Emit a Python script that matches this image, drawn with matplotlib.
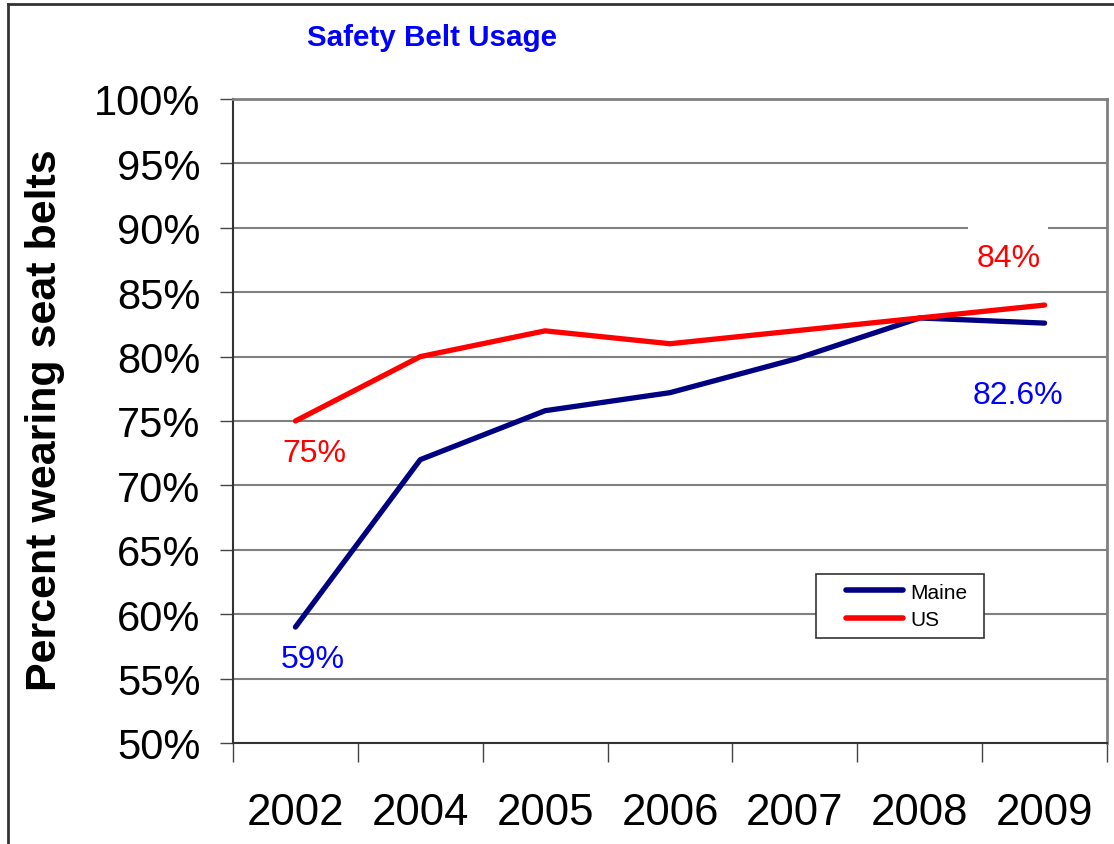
import matplotlib
matplotlib.use("Agg")
import matplotlib.pyplot as plt
from matplotlib.patches import Rectangle
from matplotlib.lines import Line2D

plt.rcParams['font.family'] = ['Liberation Sans', 'DejaVu Sans']

years = ['2002', '2004', '2005', '2006', '2007', '2008', '2009']
maine = [59.0, 72.0, 75.8, 77.2, 79.8, 83.0, 82.6]
us = [75.0, 80.0, 82.0, 81.0, 82.0, 83.0, 84.0]
yticks = [50, 55, 60, 65, 70, 75, 80, 85, 90, 95, 100]

W, H = 1114, 845
fig = plt.figure(figsize=(W / 100, H / 100), dpi=100)
ax = fig.add_axes([233 / W, 1 - 744 / H, (1107 - 233) / W, (744 - 100) / H])

x = list(range(len(years)))
ax.set_xlim(-0.5, len(years) - 0.5)
ax.set_ylim(50, 100)

ax.set_yticks(yticks)
ax.set_yticklabels([f"{v}%" for v in yticks], fontsize=30)
ax.yaxis.grid(True, color='#808080', linewidth=1.5, zorder=0)
ax.set_axisbelow(True)

ax.set_xticks([i - 0.5 for i in range(len(years) + 1)])
ax.set_xticklabels([])
ax.set_xticks(x, minor=True)
ax.set_xticklabels(years, minor=True, fontsize=31.5)
ax.tick_params(axis='x', which='major', length=14, width=1, color='#444444', direction='out')
ax.tick_params(axis='x', which='minor', length=0, pad=35)
ax.tick_params(axis='y', length=9.5, width=1, color='#444444', pad=14)

for s in ['left', 'bottom']:
    ax.spines[s].set_color('#333333')
    ax.spines[s].set_linewidth(1.5)
for s in ['right', 'top']:
    ax.spines[s].set_color('#808080')
    ax.spines[s].set_linewidth(2)

# white label box covering the 90% gridline
ax.add_patch(Rectangle((5.39, 88.6), 0.64, 2.6, facecolor='white', edgecolor='none', zorder=1))

ax.plot(x, maine, color='#000080', linewidth=3.8, solid_capstyle='round', zorder=3, label='Maine')
ax.plot(x, us, color='#FF0000', linewidth=3.8, solid_capstyle='round', zorder=3, label='US')

ax.text(x[0] + 0.15, us[0] - 2.5, f"{us[0]:.0f}%", color='#FF0000', fontsize=23, ha='center', va='center')
ax.text(x[-1] - 0.29, us[-1] + 3.65, f"{us[-1]:.0f}%", color='#FF0000', fontsize=23, ha='center', va='center')
ax.text(x[0] + 0.14, maine[0] - 2.45, f"{maine[0]:.0f}%", color='#0000FF', fontsize=23, ha='center', va='center')
ax.text(x[-1] - 0.21, maine[-1] - 5.55, f"{maine[-1]:.1f}%", color='#0000FF', fontsize=23, ha='center', va='center')

AW, AH = 1107 - 233, 744 - 100
lx0 = (816 - 233) / AW
lw = (984 - 816) / AW
ly1 = 1 - (575 - 100) / AH
leg = ax.legend(loc='upper left', bbox_to_anchor=(lx0, ly1 - 0.2, lw, 0.2), mode='expand',
                fontsize=15, frameon=True, fancybox=False, edgecolor='#333333', framealpha=1,
                handlelength=3.84, handletextpad=0.25, borderpad=0.42, labelspacing=0.4,
                borderaxespad=0)
leg.get_frame().set_linewidth(1.2)
for lh in leg.get_lines():
    lh.set_linewidth(4)
    lh.set_solid_capstyle('round')
    xd = list(lh.get_xdata())
    yd = list(lh.get_ydata())
    lh.set_data([xd[0] + 15, xd[-1] - 1], [yd[0], yd[-1]])

fig.text(45 / W, 1 - 420 / H, 'Percent wearing seat belts', fontsize=31, fontweight='bold',
         rotation=90, ha='center', va='center')

fig.text(432 / W, 1 - 38 / H, 'Safety Belt Usage', fontsize=21.3, fontweight='bold', color='#0000FF',
         ha='center', va='center')

# figure border (left and top visible)
fig.add_artist(Line2D([8 / W, 8 / W], [0, 1 - 5 / H], transform=fig.transFigure, color='#333333', linewidth=2))
fig.add_artist(Line2D([8 / W, 1], [1 - 5 / H, 1 - 5 / H], transform=fig.transFigure, color='#333333', linewidth=2))

fig.savefig('out.png', dpi=100, facecolor='white')
